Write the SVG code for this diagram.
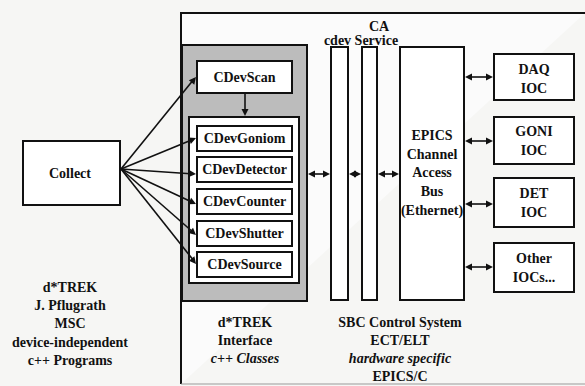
<svg xmlns="http://www.w3.org/2000/svg" xmlns:xlink="http://www.w3.org/1999/xlink" width="585" height="386" viewBox="0 0 585 386">
<defs>
<style>
.box{fill:#fff;stroke:#111;stroke-width:2}
.con{stroke:#111;stroke-width:1.6;fill:none}
.t{font-weight:bold;font-size:14px;fill:#111;text-anchor:middle}
</style>
<path id="ah" d="M0,0 L-7,-3.5 L-7,3.5 z" fill="#111"/>
</defs>
<rect width="585" height="386" fill="#f6f6f4"/>
<g id="frame">
<path d="M181,384 L181,13 L585,13" fill="#fbfbfb" stroke="#111" stroke-width="2"/>
<line x1="181" y1="384" x2="585" y2="384" stroke="#999" stroke-width="1"/>
</g>
<g id="shaded">
<rect x="182" y="45" width="125" height="256" fill="#bcbcbc" stroke="#111" stroke-width="2"/>
</g>
<g id="inner"><rect x="189" y="117" width="110" height="166" class="box"/></g>
<g id="bar1"><rect x="331" y="47" width="17" height="253" class="box"/></g>
<g id="bar2"><rect x="362" y="47" width="15" height="253" class="box"/></g>
<g id="cdevscan"><rect x="197" y="61" width="95" height="32" class="box"/><text class="t" font-family="Liberation Serif" x="244.5" y="82">CDevScan</text></g>
<g id="cdevgoniom"><rect x="197" y="126" width="95" height="25" class="box"/><text class="t" font-family="Liberation Serif" x="244.5" y="143">CDevGoniom</text></g>
<g id="cdevdetector"><rect x="197" y="157" width="95" height="25" class="box"/><text class="t" font-family="Liberation Serif" x="244.5" y="174">CDevDetector</text></g>
<g id="cdevcounter"><rect x="197" y="189" width="95" height="25" class="box"/><text class="t" font-family="Liberation Serif" x="244.5" y="206">CDevCounter</text></g>
<g id="cdevshutter"><rect x="197" y="221" width="95" height="25" class="box"/><text class="t" font-family="Liberation Serif" x="244.5" y="238">CDevShutter</text></g>
<g id="cdevsource"><rect x="197" y="252" width="95" height="25" class="box"/><text class="t" font-family="Liberation Serif" x="244.5" y="269">CDevSource</text></g>
<g id="collect"><rect x="23" y="141" width="97" height="64" class="box"/><text class="t" font-family="Liberation Serif" x="70" y="178">Collect</text></g>
<g id="epics"><rect x="400" y="47" width="64" height="253" class="box"/>
<text class="t" font-family="Liberation Serif" x="432" y="140">EPICS</text><text class="t" font-family="Liberation Serif" x="432" y="159">Channel</text><text class="t" font-family="Liberation Serif" x="432" y="177">Access</text><text class="t" font-family="Liberation Serif" x="432" y="196">Bus</text><text class="t" font-family="Liberation Serif" x="432" y="215">(Ethernet)</text></g>
<g id="daq"><rect x="494" y="54" width="80" height="46" class="box"/><text class="t" font-family="Liberation Serif" x="534" y="74">DAQ</text><text class="t" font-family="Liberation Serif" x="534" y="93">IOC</text></g>
<g id="goni"><rect x="494" y="117" width="80" height="47" class="box"/><text class="t" font-family="Liberation Serif" x="534" y="136">GONI</text><text class="t" font-family="Liberation Serif" x="534" y="155">IOC</text></g>
<g id="det"><rect x="494" y="178" width="80" height="49" class="box"/><text class="t" font-family="Liberation Serif" x="534" y="198">DET</text><text class="t" font-family="Liberation Serif" x="534" y="217">IOC</text></g>
<g id="other"><rect x="494" y="243" width="80" height="49" class="box"/><text class="t" font-family="Liberation Serif" x="534" y="263">Other</text><text class="t" font-family="Liberation Serif" x="534" y="282">IOCs...</text></g>
<g id="labels">
<text class="t" font-family="Liberation Serif" x="379" y="31">CA</text>
<text class="t" font-family="Liberation Serif" x="361" y="45">cdev Service</text>
<text class="t" font-family="Liberation Serif" x="70" y="292">d*TREK</text>
<text class="t" font-family="Liberation Serif" x="70" y="310">J. Pflugrath</text>
<text class="t" font-family="Liberation Serif" x="70" y="328">MSC</text>
<text class="t" font-family="Liberation Serif" x="70" y="347">device-independent</text>
<text class="t" font-family="Liberation Serif" x="70" y="365">c++ Programs</text>
<text class="t" font-family="Liberation Serif" x="245" y="327">d*TREK</text>
<text class="t" font-family="Liberation Serif" x="245" y="345">Interface</text>
<text class="t" font-family="Liberation Serif" font-style="italic" x="245" y="363">c++ Classes</text>
<text class="t" font-family="Liberation Serif" x="400" y="327">SBC Control System</text>
<text class="t" font-family="Liberation Serif" x="400" y="345">ECT/ELT</text>
<text class="t" font-family="Liberation Serif" font-style="italic" x="400" y="363">hardware specific</text>
<text class="t" font-family="Liberation Serif" x="400" y="381">EPICS/C</text>
</g>
<g id="connectors">
<g class="con">
<line x1="121" y1="169" x2="194" y2="79"/>
<line x1="121" y1="169" x2="194" y2="139"/>
<line x1="121" y1="169" x2="194" y2="174"/>
<line x1="121" y1="169" x2="194" y2="203"/>
<line x1="121" y1="169" x2="194" y2="233"/>
<line x1="121" y1="169" x2="194" y2="261"/>
<line x1="245" y1="94" x2="245" y2="114"/>
<line x1="310" y1="174" x2="328" y2="174"/>
<line x1="351" y1="174" x2="359" y2="174"/>
<line x1="380" y1="174" x2="397" y2="174"/>
<line x1="467" y1="77" x2="491" y2="77"/>
<line x1="467" y1="141" x2="491" y2="141"/>
<line x1="467" y1="204" x2="491" y2="204"/>
<line x1="467" y1="267" x2="491" y2="267"/>
</g>
<use xlink:href="#ah" href="#ah" transform="translate(196,77) rotate(-50.8)"/>
<use xlink:href="#ah" href="#ah" transform="translate(196,138) rotate(-22.5)"/>
<use xlink:href="#ah" href="#ah" transform="translate(196,174) rotate(3.8)"/>
<use xlink:href="#ah" href="#ah" transform="translate(196,204) rotate(25)"/>
<use xlink:href="#ah" href="#ah" transform="translate(196,235) rotate(41.3)"/>
<use xlink:href="#ah" href="#ah" transform="translate(196,264) rotate(51.7)"/>
<use xlink:href="#ah" href="#ah" transform="translate(245,116) rotate(90)"/>
<use xlink:href="#ah" href="#ah" transform="translate(308,174) rotate(180)"/>
<use xlink:href="#ah" href="#ah" transform="translate(330,174)"/>
<use xlink:href="#ah" href="#ah" transform="translate(349,174) rotate(180)"/>
<use xlink:href="#ah" href="#ah" transform="translate(361,174)"/>
<use xlink:href="#ah" href="#ah" transform="translate(378,174) rotate(180)"/>
<use xlink:href="#ah" href="#ah" transform="translate(399,174)"/>
<use xlink:href="#ah" href="#ah" transform="translate(465,77) rotate(180)"/>
<use xlink:href="#ah" href="#ah" transform="translate(493,77)"/>
<use xlink:href="#ah" href="#ah" transform="translate(465,141) rotate(180)"/>
<use xlink:href="#ah" href="#ah" transform="translate(493,141)"/>
<use xlink:href="#ah" href="#ah" transform="translate(465,204) rotate(180)"/>
<use xlink:href="#ah" href="#ah" transform="translate(493,204)"/>
<use xlink:href="#ah" href="#ah" transform="translate(465,267) rotate(180)"/>
<use xlink:href="#ah" href="#ah" transform="translate(493,267)"/>
</g>
</svg>
